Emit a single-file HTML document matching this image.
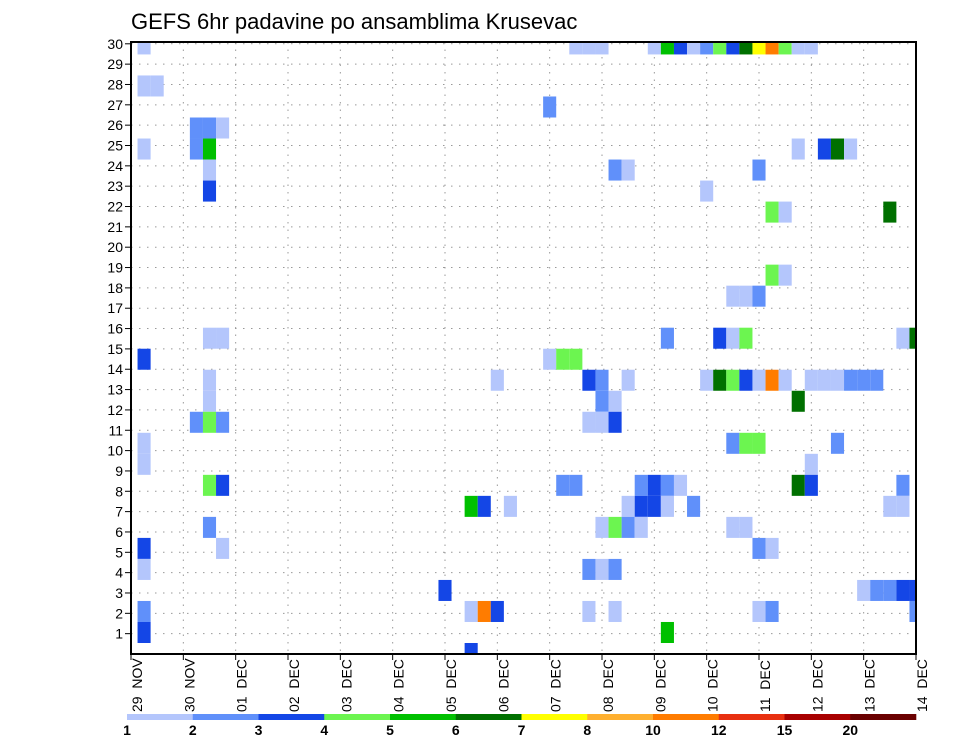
<!DOCTYPE html>
<html><head><meta charset="utf-8"><style>
html,body{margin:0;padding:0;background:#fff;}
svg{display:block;font-family:"Liberation Sans",sans-serif;}
</style></head><body>
<svg id="chart" width="960" height="742" viewBox="0 0 960 742" xmlns="http://www.w3.org/2000/svg">
<text x="131" y="29" font-size="22" fill="#000">GEFS 6hr padavine po ansamblima Krusevac</text>
<g id="grid"></g>
<defs><clipPath id="pc"><rect x="131" y="42" width="785" height="612"/></clipPath></defs>
<g id="cells" clip-path="url(#pc)"></g>
<rect x="131" y="42" width="785" height="612" fill="none" stroke="#000" stroke-width="2"/>
<g id="axes"></g>
<g id="colorbar"></g>
</svg>
<script>
const dayLabels = ["29 NOV","30 NOV","01 DEC","02 DEC","03 DEC","04 DEC","05 DEC","06 DEC","07 DEC","08 DEC","09 DEC","10 DEC","11 DEC","12 DEC","13 DEC","14 DEC"];
const yTicks = [1,2,3,4,5,6,7,8,9,10,11,12,13,14,15,16,17,18,19,20,21,22,23,24,25,26,27,28,29,30];
const levelLabels = ["1","2","3","4","5","6","7","8","10","12","15","20"];
const levelColors = ["#b4c6fc","#6090fa","#1446e6","#6cf550","#00c000","#007000","#ffff00","#ffb030","#ff7c00","#e83010","#a80000","#6a0000"];
// [member, 6h-step, level band (1..12)]
const cells = [
[30,1,1],[30,34,1],[30,35,1],[30,36,1],[30,40,1],[30,41,5],[30,42,3],[30,43,1],[30,44,2],[30,45,4],[30,46,3],[30,47,6],[30,48,7],[30,49,9],[30,50,4],[30,51,1],[30,52,1],
[28,1,1],[28,2,1],
[27,32,2],
[26,5,2],[26,6,2],[26,7,1],
[25,1,1],[25,5,2],[25,6,5],[25,51,1],[25,53,3],[25,54,6],[25,55,1],
[24,6,1],[24,37,2],[24,38,1],[24,48,2],
[23,6,3],[23,44,1],
[22,49,4],[22,50,1],[22,58,6],
[19,49,4],[19,50,1],
[18,46,1],[18,47,1],[18,48,2],
[16,6,1],[16,7,1],[16,41,2],[16,45,3],[16,46,1],[16,47,4],[16,59,1],[16,60,6],
[15,1,3],[15,32,1],[15,33,4],[15,34,4],
[14,6,1],[14,28,1],[14,35,3],[14,36,2],[14,38,1],[14,44,1],[14,45,6],[14,46,4],[14,47,3],[14,48,1],[14,49,9],[14,50,1],[14,52,1],[14,53,1],[14,54,1],[14,55,2],[14,56,2],[14,57,2],
[13,6,1],[13,36,2],[13,37,1],[13,51,6],
[12,5,2],[12,6,4],[12,7,2],[12,35,1],[12,36,1],[12,37,3],
[11,1,1],[11,46,2],[11,47,4],[11,48,4],[11,54,2],
[10,1,1],[10,52,1],
[9,6,4],[9,7,3],[9,33,2],[9,34,2],[9,39,2],[9,40,3],[9,41,2],[9,42,1],[9,51,6],[9,52,3],[9,59,2],
[8,26,5],[8,27,3],[8,29,1],[8,38,1],[8,39,3],[8,40,3],[8,41,1],[8,43,2],[8,58,1],[8,59,1],
[7,6,2],[7,36,1],[7,37,4],[7,38,2],[7,39,1],[7,46,1],[7,47,1],
[6,1,3],[6,7,1],[6,48,2],[6,49,1],
[5,1,1],[5,35,2],[5,36,1],[5,37,2],
[4,24,3],[4,56,1],[4,57,2],[4,58,2],[4,59,3],[4,60,3],
[3,1,2],[3,26,1],[3,27,9],[3,28,3],[3,35,1],[3,37,1],[3,48,1],[3,49,2],[3,60,2],
[2,1,3],[2,41,5],
[1,26,3]
];
const NS="http://www.w3.org/2000/svg";
const X0=131,X1=916,Y0=654,Y1=42;
const nSteps=(dayLabels.length-1)*4;
const dx=(X1-X0)/nSteps;
function xStep(t){return X0+t*dx;}
function yTick(v){return Y0-v*20.34;}
const memberH=21.02;
function yMemberTop(k){return 643-(k-1)*memberH;}
function mk(tag,attrs,parent){const e=document.createElementNS(NS,tag);for(const a in attrs)e.setAttribute(a,attrs[a]);parent.appendChild(e);return e;}
const grid=document.getElementById('grid'),cg=document.getElementById('cells'),ax=document.getElementById('axes'),cb=document.getElementById('colorbar');
yTicks.forEach(v=>{
  const y=yTick(v);
  const l=mk('line',{x1:X0,x2:X1,y1:y,y2:y,stroke:'#999','stroke-width':1,'stroke-dasharray':'1.5 6.5'},grid);
  
  
  const tk=mk('line',{x1:X0-6,x2:X0,y1:y,y2:y,stroke:'#000','stroke-width':1},ax);
  
  
  const tx=mk('text',{x:X0-8,y:y+5,'font-size':14,'text-anchor':'end',fill:'#000'},ax);
  
  
  tx.textContent=v;
});
dayLabels.forEach((d,i)=>{
  const x=xStep(i*4);
  if(i>0&&i<dayLabels.length-1){
    const l=mk('line',{x1:x,x2:x,y1:Y1,y2:Y0,stroke:'#999','stroke-width':1,'stroke-dasharray':'1.5 6'},grid);
    
    
  }
  const tk=mk('line',{x1:x,x2:x,y1:Y0,y2:Y0+6,stroke:'#000','stroke-width':1},ax);
  
  
  const tx=mk('text',{x:0,y:0,'font-size':14,'text-anchor':'start',fill:'#000',transform:`translate(${x+11},712) rotate(-90)`},ax);
  
  
  tx.setAttribute('xml:space','preserve');
  tx.style.whiteSpace='pre';
  tx.textContent=d.replace(' ','  ');
});
cells.forEach(c=>{
  const r=mk('rect',{x:xStep(c[1])-dx/2,y:yMemberTop(c[0]),width:dx,height:memberH,fill:levelColors[c[2]-1]},cg);
  
  
});
const cbX0=127,cbX1=916,cbW=(cbX1-cbX0)/levelColors.length;
levelColors.forEach((col,i)=>{
  const r=mk('rect',{x:cbX0+i*cbW,y:714,width:cbW+0.3,height:6,fill:col},cb);
  
  
  const t=mk('text',{x:cbX0+i*cbW,y:735,'font-size':14,'font-weight':'bold','text-anchor':'middle',fill:'#000'},cb);
  
  
  t.textContent=levelLabels[i];
});
</script>
</body></html>
